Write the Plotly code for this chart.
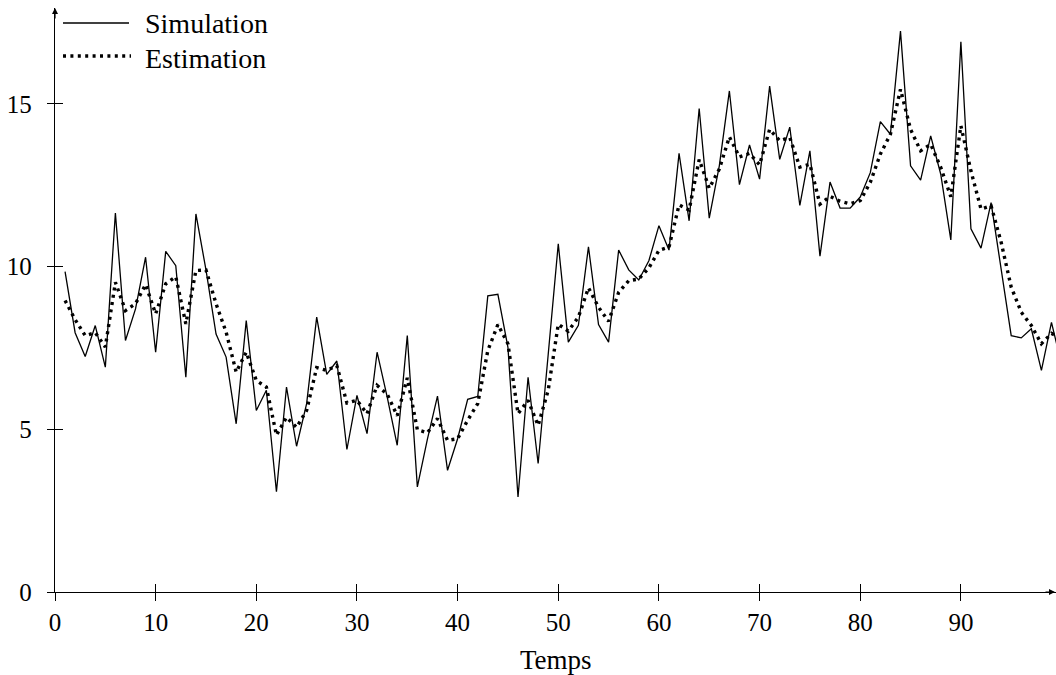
import plotly.graph_objects as go

# Time steps
temps = list(range(1, 101))

# Simulated trajectory
simulation = [
    9.85, 7.97, 7.24, 8.19, 6.91, 11.65, 7.73, 8.7, 10.29, 7.37,
    10.47, 10.03, 6.6, 11.62, 9.9, 7.93, 7.22, 5.17, 8.34, 5.58,
    6.2, 3.08, 6.3, 4.48, 5.79, 8.45, 6.69, 7.1, 4.38, 6.04,
    4.87, 7.37, 6.0, 4.51, 7.88, 3.23, 4.7, 6.02, 3.74, 4.71,
    5.92, 6.01, 9.1, 9.15, 7.52, 2.92, 6.6, 3.95, 7.3, 10.7,
    7.68, 8.2, 10.61, 8.22, 7.68, 10.51, 9.9, 9.59, 10.18, 11.26,
    10.51, 13.48, 11.41, 14.86, 11.49, 13.1, 15.4, 12.52, 13.74, 12.69,
    15.55, 13.3, 14.29, 11.88, 13.56, 10.32, 12.6, 11.8, 11.8, 12.14,
    12.89, 14.46, 14.07, 17.24, 13.1, 12.66, 14.02, 12.84, 10.82, 16.91,
    11.16, 10.57, 11.97, 10.0, 7.88, 7.81, 8.09, 6.81, 8.29, 7.0,
]

# Filtered estimate
estimation = [
    8.96, 8.37, 7.88, 7.97, 7.53, 9.52, 8.65, 8.86, 9.45, 8.55,
    9.47, 9.69, 8.24, 9.88, 9.9, 8.86, 7.99, 6.76, 7.37, 6.5,
    6.3, 4.82, 5.37, 5.06, 5.58, 6.9, 6.81, 6.96, 5.81, 5.89,
    5.48, 6.35, 6.08, 5.42, 6.58, 4.99, 4.89, 5.33, 4.66, 4.71,
    5.28, 5.79, 7.42, 8.22, 7.63, 5.48, 5.89, 5.12, 6.2, 8.23,
    8.02, 8.45, 9.35, 8.75, 8.32, 9.21, 9.57, 9.62, 9.96, 10.5,
    10.6, 11.9, 11.74, 13.29, 12.41, 13.0, 13.99, 13.37, 13.48, 13.13,
    14.22, 13.87, 13.97, 13.06, 13.15, 11.92, 12.16, 12.01, 11.93, 12.03,
    12.59, 13.46, 14.07, 15.45, 14.22, 13.56, 13.76, 13.05, 12.15, 14.33,
    12.94, 11.77, 11.87, 10.75, 9.37, 8.6, 8.19, 7.63, 7.95, 7.8,
]

x_ticks = [0, 10, 20, 30, 40, 50, 60, 70, 80, 90]
y_ticks = [0, 5, 10, 15]

FONT = "Liberation Serif"
X_MAX = 99.45
Y_MAX = 17.95
DOTS = "3px,4.4px"

fig = go.Figure()

fig.add_trace(go.Scatter(
    x=temps, y=simulation, mode="lines", name="Simulation",
    line=dict(color="black", width=1.3), showlegend=False,
))
fig.add_trace(go.Scatter(
    x=temps, y=estimation, mode="lines", name="Estimation",
    line=dict(color="black", width=3.4, dash=DOTS), showlegend=False,
))

axis_common = dict(
    showgrid=False, zeroline=False,
    tickfont=dict(family=FONT, size=25, color="black"),
    tickcolor="black", tickwidth=1.2,
)

fig.update_layout(
    width=1056, height=675,
    margin=dict(l=55, r=0, t=8, b=83),
    paper_bgcolor="white", plot_bgcolor="white",
    xaxis=dict(
        range=[0, X_MAX], tickvals=x_ticks, ticktext=[str(v) for v in x_ticks],
        ticks="inside", ticklen=8, ticklabelstandoff=8,
        showline=True, linecolor="black", linewidth=1.4,
        **axis_common,
    ),
    yaxis=dict(
        range=[0, Y_MAX], tickvals=y_ticks, ticktext=[str(v) for v in y_ticks],
        ticks="inside", ticklen=8, ticklabelstandoff=17,
        showline=True, linecolor="black", linewidth=1.4,
        **axis_common,
    ),
    # duplicate axes carrying the outer half of the tick marks
    xaxis2=dict(
        overlaying="x", side="bottom", range=[0, X_MAX], tickvals=x_ticks,
        ticks="outside", ticklen=8, showticklabels=False,
        showgrid=False, zeroline=False, showline=False,
        tickcolor="black", tickwidth=1.2,
    ),
    yaxis2=dict(
        overlaying="y", side="left", range=[0, Y_MAX], tickvals=y_ticks,
        ticks="outside", ticklen=7, showticklabels=False,
        showgrid=False, zeroline=False, showline=False,
        tickcolor="black", tickwidth=1.2,
    ),
    showlegend=False,
)

# invisible trace to activate the secondary axes
fig.add_trace(go.Scatter(x=[None], y=[None], xaxis="x2", yaxis="y2",
                         showlegend=False, hoverinfo="skip"))

# Axis arrows
fig.add_annotation(x=1.0, y=0, xref="paper", yref="paper", ax=-12, ay=0,
                   showarrow=True, arrowhead=2, arrowsize=1, arrowwidth=1.2,
                   arrowcolor="black", text="")
fig.add_annotation(x=0, y=1.0, xref="paper", yref="paper", ax=0, ay=12,
                   showarrow=True, arrowhead=2, arrowsize=1, arrowwidth=1.2,
                   arrowcolor="black", text="")

# Axis title
fig.add_annotation(x=0.5, y=-0.1164, xref="paper", yref="paper",
                   text="Temps", showarrow=False, yanchor="middle",
                   font=dict(family=FONT, size=27, color="black"))

# Legend drawn in the upper-left corner
def px_x(p):
    return (p - 55) / 1001

def px_y(p):
    return (592 - p) / 584

fig.add_shape(type="line", xref="paper", yref="paper",
              x0=px_x(63), x1=px_x(129), y0=px_y(23), y1=px_y(23),
              line=dict(color="black", width=1.3))
fig.add_shape(type="line", xref="paper", yref="paper",
              x0=px_x(63), x1=px_x(131), y0=px_y(56), y1=px_y(56),
              line=dict(color="black", width=3.4, dash=DOTS))
fig.add_annotation(x=px_x(143), y=px_y(23), xref="paper", yref="paper",
                   text="Simulation", showarrow=False, xanchor="left",
                   yanchor="middle", font=dict(family=FONT, size=28, color="black"))
fig.add_annotation(x=px_x(143), y=px_y(58), xref="paper", yref="paper",
                   text="Estimation", showarrow=False, xanchor="left",
                   yanchor="middle", font=dict(family=FONT, size=28, color="black"))

fig.write_html("out.html")
